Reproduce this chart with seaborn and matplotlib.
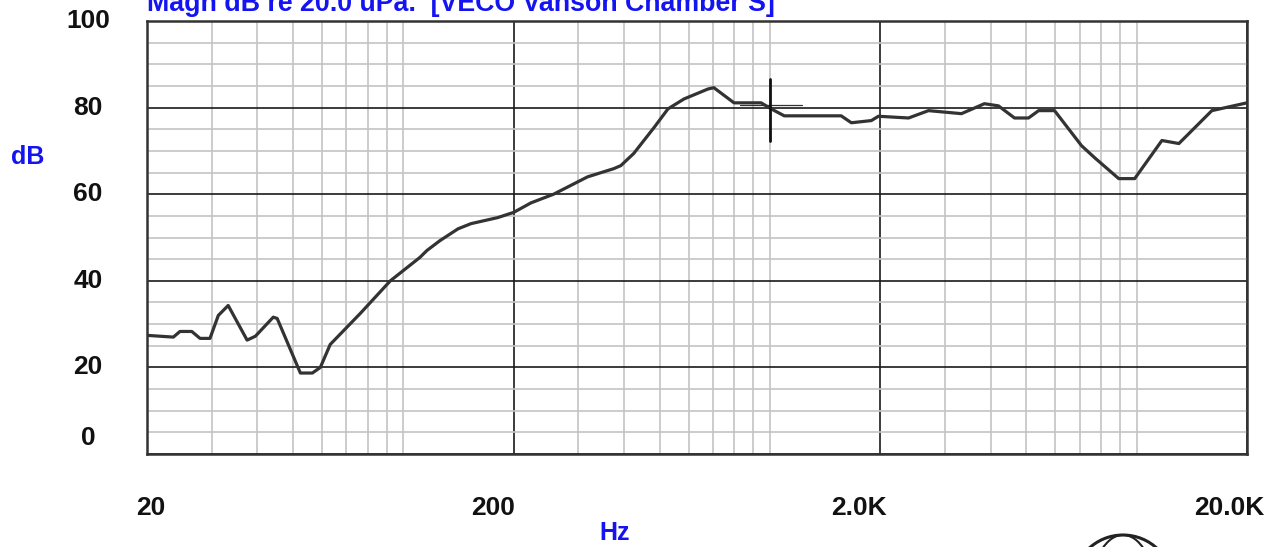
import numpy as np
import matplotlib
matplotlib.use("Agg")
import matplotlib.pyplot as plt
import matplotlib.transforms as mtransforms
from matplotlib.patches import Ellipse
import seaborn as sns

# response curve (Hz, dB)
freq = [20, 21.7, 23.6, 24.6, 26.5, 27.9, 29.7, 31.3, 33.3, 37.5, 39.5, 44.2, 45.3,
        52.4, 56.5, 59.4, 63.2, 76.4, 92.2, 111, 116, 126, 141, 153, 181, 200, 223,
        257, 318, 375, 392, 425, 483, 527, 583, 678, 703, 798, 946, 1008, 1094, 1380,
        1564, 1667, 1890, 1976, 2388, 2706, 3328, 3846, 4200, 4645, 5072, 5405, 5972,
        7076, 7688, 8938, 9880, 11720, 13040, 16040, 20000]
db = [27.4, 27.2, 27.0, 28.3, 28.3, 26.7, 26.7, 32.0, 34.3, 26.3, 27.2, 31.6, 31.3,
      18.7, 18.7, 20.0, 25.3, 32.5, 40.0, 45.4, 47.0, 49.3, 52.0, 53.2, 54.6, 55.8, 58.0,
      60.0, 64.0, 65.9, 66.6, 69.4, 75.4, 79.7, 82.0, 84.3, 84.6, 81.1, 81.1, 79.7, 78.1, 78.1,
      78.1, 76.5, 77.0, 78.0, 77.6, 79.3, 78.6, 80.9, 80.4, 77.6, 77.6, 79.3, 79.3,
      71.2, 68.4, 63.6, 63.6, 72.4, 71.7, 79.3, 81.1]

# cursor marker and short reference trace
cursor_hz = 1000
cursor_db = [72.4, 86.6]
ref_hz = [830, 1220]
ref_db = [80.6, 80.6]

x_ticks = [20, 200, 2000, 20000]
x_labels = ["20", "200", "2.0K", "20.0K"]
x_label_shift = [4, -21, -21, -18]  # pixels
y_ticks = [0, 20, 40, 60, 80, 100]
y_labels = ["0", "20", "40", "60", "80", "100"]

title = "Magn dB re 20.0 uPa.  [VECO Vanson Chamber S]"
blue = "#1414f0"

sns.set_style("white")
plt.rcParams["font.family"] = ["Liberation Sans", "DejaVu Sans"]

fig = plt.figure(figsize=(12.75, 5.47), dpi=100)
ax = fig.add_axes([147 / 1275, 1 - 454 / 547, 1100 / 1275, 433 / 547])

ax.set_xscale("log")
ax.set_xlim(20, 20000)
ax.set_ylim(0, 100)

# grid: gray minors, black majors
minor_x = [m * 10 ** k for k in (1, 2, 3) for m in range(3, 11)]
minor_x = [v for v in minor_x if 20 < v < 20000]
ax.set_xticks(x_ticks)
ax.set_xticks(minor_x, minor=True)
ax.set_yticks(y_ticks)
ax.set_yticks(np.arange(0, 101, 5), minor=True)
ax.grid(which="minor", color="#c4c4c4", linewidth=1.2)
ax.grid(which="major", color="#1a1a1a", linewidth=1.2)
ax.set_axisbelow(True)
ax.tick_params(which="both", length=0, labelbottom=False, labelleft=False)
for s in ax.spines.values():
    s.set_color("#333333")
    s.set_linewidth(1.8)

sns.lineplot(x=freq, y=db, ax=ax, color="#333333", linewidth=2.3, sort=True)
ax.plot(ref_hz, ref_db, color="#333333", linewidth=0.9)
ax.plot([cursor_hz, cursor_hz], cursor_db, color="#111111", linewidth=2.0)

# tick labels as text
lab_font = dict(fontsize=19, fontweight="bold", color="#111111")
xt = mtransforms.blended_transform_factory(ax.transData, ax.transAxes)
for v, lab, dx in zip(x_ticks, x_labels, x_label_shift):
    tr = xt + mtransforms.ScaledTranslation(dx / 100, 0, fig.dpi_scale_trans)
    ax.text(v, -0.125, lab, transform=tr, ha="center", va="center", **lab_font)
yt = mtransforms.blended_transform_factory(ax.transAxes, ax.transData)
for v, lab in zip(y_ticks, y_labels):
    dy = 16 if v == 0 else 0
    tr = yt + mtransforms.ScaledTranslation(0, dy / 100, fig.dpi_scale_trans)
    ax.text(-59 / 1100, v, lab, transform=tr, ha="center", va="center", **lab_font)

fig.text(147 / 1275, 1 - 11 / 547, title, color=blue, fontsize=19.3, fontweight="bold",
         ha="left", va="baseline")
fig.text(28 / 1275, 1 - 157 / 547, "dB", color=blue, fontsize=18, fontweight="bold",
         ha="center", va="center")
fig.text(615 / 1275, 1 - 533 / 547, "Hz", color=blue, fontsize=18, fontweight="bold",
         ha="center", va="center")

# partial logo in the corner
fig.add_artist(Ellipse((1123 / 1275, -38 / 547), 100 / 1275, 100 / 547,
                       fill=False, edgecolor="#222222", linewidth=2.2))
fig.add_artist(Ellipse((1123 / 1275, -38 / 547), 60 / 1275, 100 / 547,
                       fill=False, edgecolor="#222222", linewidth=1.5))

fig.savefig("out.png", dpi=100)
